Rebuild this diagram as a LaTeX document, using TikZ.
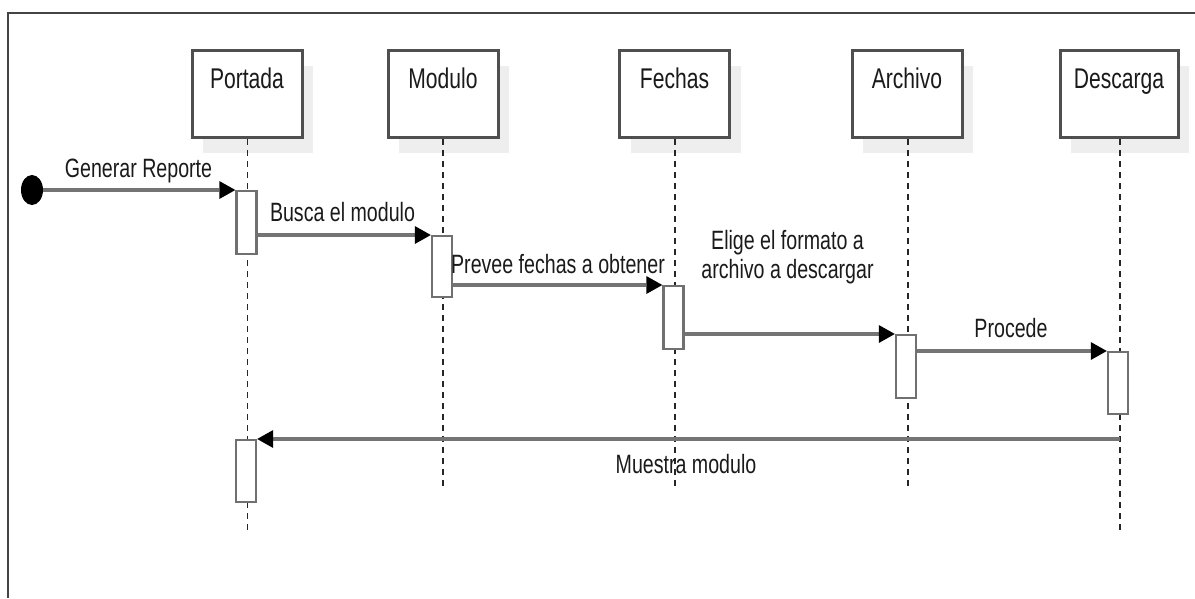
\documentclass[tikz,border=0pt]{standalone}
\usepackage{fontspec}
\setmainfont{Liberation Sans}[FakeStretch=0.74]
\usetikzlibrary{arrows.meta,shapes.geometric,shadows}
\definecolor{framec}{HTML}{444444}
\definecolor{boxc}{HTML}{4F4F4F}
\definecolor{actc}{HTML}{707070}
\definecolor{msgc}{HTML}{747474}
\definecolor{shadc}{HTML}{EEEEEE}
\definecolor{textc}{HTML}{1A1A1A}
\tikzset{
  head/.style={draw=boxc, line width=3pt, fill=white, inner sep=0pt,
    text height=38pt, text depth=49pt, minimum width=110pt, anchor=north,
    font=\fontsize{28.5}{32}\selectfont, text=textc,
    drop shadow={shadow xshift=11pt, shadow yshift=-15pt, fill=shadc, opacity=1}},
  lifeline/.style={draw=black!85, line width=1.6pt, dash pattern=on 6pt off 5pt},
  actbox/.style={draw=actc, line width=2.4pt, fill=white, minimum width=20pt,
    inner sep=0pt, anchor=north},
  msg/.style={draw=msgc, line width=3.2pt,
    -{Triangle[length=16pt, width=18pt, fill=black, color=black, line width=0pt]}},
  lbl/.style={font=\fontsize{26.5}{29}\selectfont, text=textc, inner sep=0pt, align=center},
}
\begin{document}
\begin{tikzpicture}[x=1pt, y=-1pt]
\useasboundingbox (0,0) rectangle (1195,598);
% frame
\draw[framec, line width=1.6pt] (8,598) -- (8,13) -- (1195,13);

% lifeline heads
\node[head] (hP) at (247,49) {Portada};
\node[head] (hM) at (443,49) {Modulo};
\node[head] (hF) at (674.5,49) {Fechas};
\node[head] (hA) at (907,49) {Archivo};
\node[head, minimum width=118pt] (hD) at (1119,49) {Descarga};

% lifeline ends
\coordinate (eP) at (247.5,530);
\coordinate (eM) at (443,490);
\coordinate (eF) at (675,490);
\coordinate (eA) at (908,490);
\coordinate (eD) at (1120,530);

\draw[lifeline] (hP.south -| eP) -- (eP);
\draw[lifeline] (hM.south -| eM) -- (eM);
\draw[lifeline] (hF.south -| eF) -- (eF);
\draw[lifeline] (hA.south -| eA) -- (eA);
\draw[lifeline] (hD.south -| eD) -- (eD);

% activation bars
\node[actbox, minimum height=63pt] (aP1) at (246.5,190) {};
\node[actbox, minimum height=61pt] (aM) at (442,235) {};
\node[actbox, minimum height=63pt] (aF) at (673.5,285) {};
\node[actbox, minimum height=63pt] (aA) at (906,334) {};
\node[actbox, minimum height=62pt] (aD) at (1118,351) {};
\node[actbox, minimum height=62pt] (aP2) at (246,439) {};

% initial state
\node[ellipse, fill=black, inner sep=0pt, minimum width=22pt, minimum height=30pt] (start) at (32,190) {};

% messages
\draw[msg] (start.east) -- (aP1.north west);
\draw[msg] (aM.north west -| aP1.east) -- (aM.north west);
\draw[msg] (aF.north west -| aM.east) -- (aF.north west);
\draw[msg] (aA.north west -| aF.east) -- (aA.north west);
\draw[msg] (aD.north west -| aA.east) -- (aD.north west);
\draw[msg] (aP2.north east -| eD) -- (aP2.north east);

% message labels
\node[lbl, anchor=base] (tGen) at (138.5,177) {Generar Reporte};
\node[lbl, anchor=base] (tBus) at (342.5,221) {Busca el modulo};
\node[lbl, anchor=base] (tPre) at (558,273) {Prevee fechas a obtener};
\node[lbl, anchor=base] (tEli) at (787.5,278) {Elige el formato a\\archivo a descargar};
\node[lbl, anchor=base] (tPro) at (1011,337) {Procede};
\node[lbl, anchor=base] (tMue) at (686,473) {Muestra modulo};
\end{tikzpicture}
\end{document}
